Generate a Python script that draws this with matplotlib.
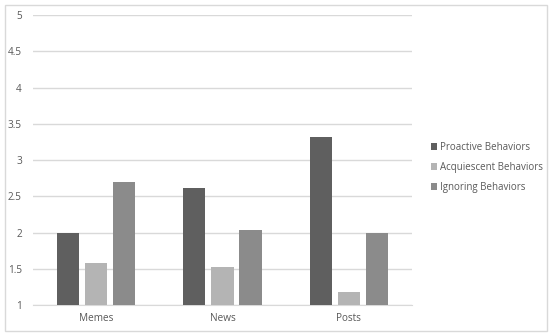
import matplotlib
matplotlib.use("Agg")
import matplotlib.pyplot as plt
import numpy as np
from matplotlib.patches import Rectangle

categories = ["Memes", "News", "Posts"]
series_names = ["Proactive Behaviors", "Acquiescent Behaviors", "Ignoring Behaviors"]
proactive = [2.0, 2.62, 3.32]
acquiescent = [1.58, 1.52, 1.18]
ignoring = [2.70, 2.03, 2.0]
colors = ["#5f5f5f", "#b4b4b4", "#8b8b8b"]

plt.rcParams["font.family"] = ["Open Sans", "DejaVu Sans"]
text_color = "#595959"
grid_color = "#d9d9d9"

fig = plt.figure(figsize=(5.5, 3.36), dpi=100)
ax = fig.add_axes([0.06, 0.092, 0.689, 0.863])

x = np.arange(len(categories))
width = 0.175
step = 0.222
for i, (vals, name) in enumerate(zip([proactive, acquiescent, ignoring], series_names)):
    ax.bar(x + (i - 1) * step, np.array(vals) - 1, width, bottom=1,
           color=colors[i], label=name, zorder=3)

ax.set_xlim(-0.5, 2.5)
ax.set_ylim(1, 5)
ax.set_yticks(np.arange(1, 5.01, 0.5))
ax.set_yticklabels([f"{v:g}" for v in np.arange(1, 5.01, 0.5)])
ax.set_xticks(x)
ax.set_xticklabels(categories)
ax.grid(axis="y", color=grid_color, linewidth=1, zorder=0)
ax.tick_params(axis="both", length=0, labelsize=7.2, colors=text_color)
ax.tick_params(axis="y", pad=8)
ax.tick_params(axis="x", pad=6)
for side in ["top", "right", "left"]:
    ax.spines[side].set_visible(False)
ax.spines["bottom"].set_color(grid_color)

leg = fig.legend(loc="center left", bbox_to_anchor=(0.767, 0.502), frameon=False,
                 fontsize=7, handlelength=0.7, handleheight=0.7, handletextpad=0.3,
                 labelspacing=0.95)
for t in leg.get_texts():
    t.set_color(text_color)

fig.patches.append(Rectangle((0.009, 0.015), 0.985, 0.97, transform=fig.transFigure,
                             fill=False, edgecolor=grid_color, linewidth=1))

fig.savefig("out.png", dpi=100)
